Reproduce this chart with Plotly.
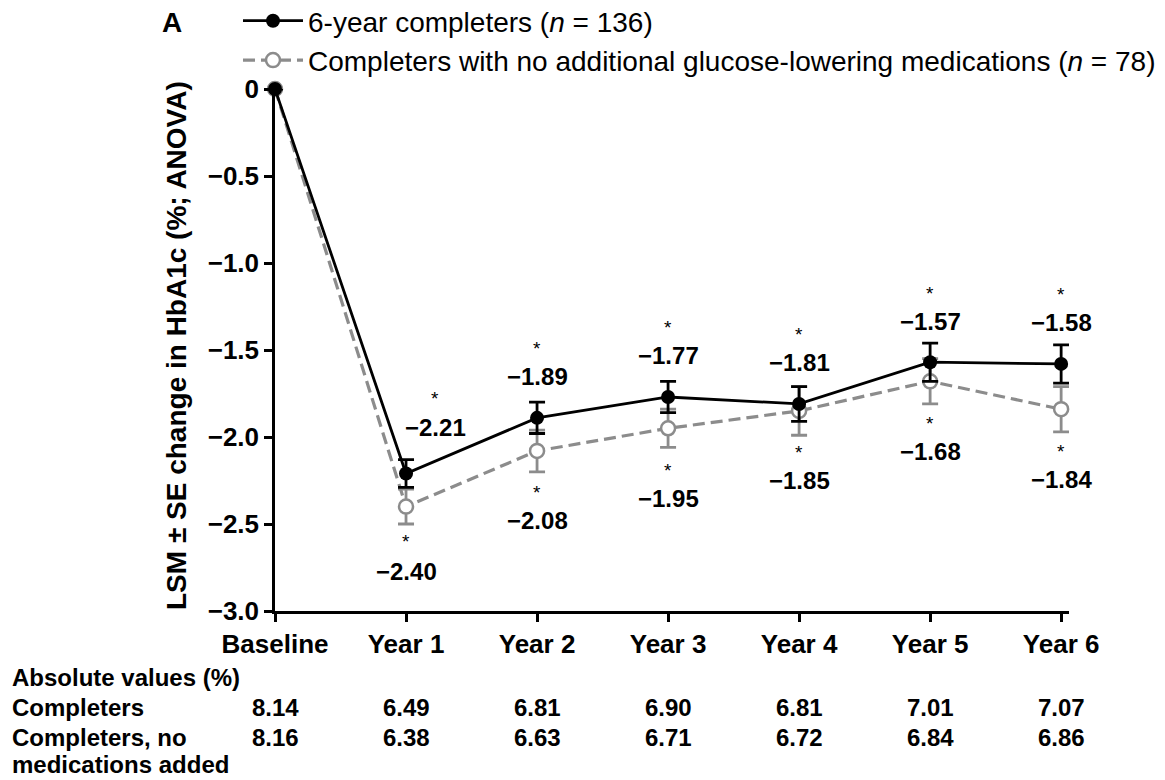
import plotly.graph_objects as go

categories = ["Baseline", "Year 1", "Year 2", "Year 3", "Year 4", "Year 5", "Year 6"]
completers = [0, -2.21, -1.89, -1.77, -1.81, -1.57, -1.58]
completers_se = [0, 0.08, 0.09, 0.09, 0.10, 0.11, 0.11]
nomed = [0, -2.40, -2.08, -1.95, -1.85, -1.68, -1.84]
nomed_se = [0, 0.10, 0.12, 0.11, 0.14, 0.13, 0.13]
abs_completers = ["8.14", "6.49", "6.81", "6.90", "6.81", "7.01", "7.07"]
abs_nomed = ["8.16", "6.38", "6.63", "6.71", "6.72", "6.84", "6.86"]
y_ticks = [0, -0.5, -1.0, -1.5, -2.0, -2.5, -3.0]
y_ticktext = ["0", "−0.5", "−1.0", "−1.5", "−2.0", "−2.5", "−3.0"]

FONT = "Arial, Liberation Sans, sans-serif"
GRAY = "#8c8c8c"
xs = list(range(len(categories)))

# plot area in pixels
XMAX = 6.06
L, T, B = 275, 89, 611
R = L + XMAX * (1061 - L) / 6.0
W, H = 1165, 780


def px_x(p):
    return (p - L) / float(R - L)


def px_y(p):
    return (B - p) / float(B - T)


fig = go.Figure()
fig.add_trace(go.Scatter(
    x=xs, y=nomed, mode="lines+markers",
    name="Completers with no additional glucose-lowering medications (<i>n</i> = 78)",
    line=dict(color=GRAY, width=3.2, dash="12px,6px"),
    marker=dict(symbol="circle", size=14, color="white", line=dict(color=GRAY, width=2.5)),
    error_y=dict(type="data", array=nomed_se, color=GRAY, thickness=2.8, width=8),
    cliponaxis=False, legendrank=2,
))
fig.add_trace(go.Scatter(
    x=xs, y=completers, mode="lines+markers",
    name="6-year completers (<i>n</i> = 136)",
    line=dict(color="black", width=2.8),
    marker=dict(symbol="circle", size=14, color="black"),
    error_y=dict(type="data", array=completers_se, color="black", thickness=2.8, width=8),
    cliponaxis=False, legendrank=1,
))

ann = []


def fmt(v):
    return "−%.2f" % abs(v)


LBL = dict(size=24, color="black", family=FONT)
AST = dict(size=19, color="black", family=FONT)

for i in range(1, len(categories)):
    if i == 1:
        xsft, ys_l, ys_a = 29, 46, 79
    else:
        xsft, ys_l, ys_a = 0, 41, 73
    ann.append(dict(x=xs[i], y=completers[i], xref="x", yref="y", text="<b>%s</b>" % fmt(completers[i]),
                    showarrow=False, xshift=xsft, yshift=ys_l, font=LBL))
    ann.append(dict(x=xs[i], y=completers[i], xref="x", yref="y", text="*",
                    showarrow=False, xshift=xsft, yshift=ys_a - 4, font=AST))
    if i == 1:
        ys_l, ys_a = -65, -31
    else:
        ys_l, ys_a = -70, -38
    ann.append(dict(x=xs[i], y=nomed[i], xref="x", yref="y", text="<b>%s</b>" % fmt(nomed[i]),
                    showarrow=False, yshift=ys_l, font=LBL))
    ann.append(dict(x=xs[i], y=nomed[i], xref="x", yref="y", text="*",
                    showarrow=False, yshift=ys_a - 4, font=AST))

TAB = dict(size=24, color="black", family=FONT)
row_labels = [("Absolute values (%)", 677), ("Completers", 707), ("Completers, no", 737), ("medications added", 764)]
for txt, p in row_labels:
    ann.append(dict(x=px_x(10), y=px_y(p), xref="paper", yref="paper", text="<b>%s</b>" % txt,
                    xanchor="left", yanchor="middle", showarrow=False, font=TAB))
for i in range(len(categories)):
    ann.append(dict(x=xs[i], y=px_y(707), xref="x", yref="paper", text="<b>%s</b>" % abs_completers[i],
                    xanchor="center", yanchor="middle", showarrow=False, font=TAB))
    ann.append(dict(x=xs[i], y=px_y(737), xref="x", yref="paper", text="<b>%s</b>" % abs_nomed[i],
                    xanchor="center", yanchor="middle", showarrow=False, font=TAB))

ann.append(dict(x=px_x(160), y=px_y(22), xref="paper", yref="paper", text="<b>A</b>",
                xanchor="left", yanchor="middle",
                showarrow=False, font=dict(size=28, color="black", family=FONT)))
ann.append(dict(x=px_x(176), y=px_y(345), xref="paper", yref="paper",
                text="<b>LSM ± SE change in HbA1c (%; ANOVA)</b>", xanchor="center", yanchor="middle",
                textangle=-90, showarrow=False, font=dict(size=28, color="black", family=FONT)))

fig.update_layout(
    width=W, height=780,
    margin=dict(l=L, r=W - R, t=T, b=H - B, autoexpand=False),
    paper_bgcolor="white", plot_bgcolor="white",
    font=dict(family=FONT, color="black"),
    showlegend=True,
    legend=dict(x=px_x(238), y=px_y(-4), xanchor="left", yanchor="top", bgcolor="rgba(0,0,0,0)",
                font=dict(size=28, color="black", family=FONT), itemwidth=60, tracegroupgap=0),
    annotations=ann,
    xaxis=dict(range=[0, XMAX], tickvals=xs, ticktext=["<b>%s</b>" % c for c in categories],
               showgrid=False, zeroline=False, showline=True, linecolor="black", linewidth=2.5,
               ticks="outside", ticklen=8, tickwidth=2.5, tickcolor="black",
               tickfont=dict(size=26, color="black", family=FONT)),
    yaxis=dict(range=[-3, 0], tickvals=y_ticks, ticktext=["<b>%s</b>" % t for t in y_ticktext],
               showgrid=False, zeroline=False, showline=True, linecolor="black", linewidth=2.5,
               ticks="outside", ticklen=8, tickwidth=2.5, tickcolor="black",
               tickfont=dict(size=26, color="black", family=FONT)),
)

fig.write_html("out.html")
